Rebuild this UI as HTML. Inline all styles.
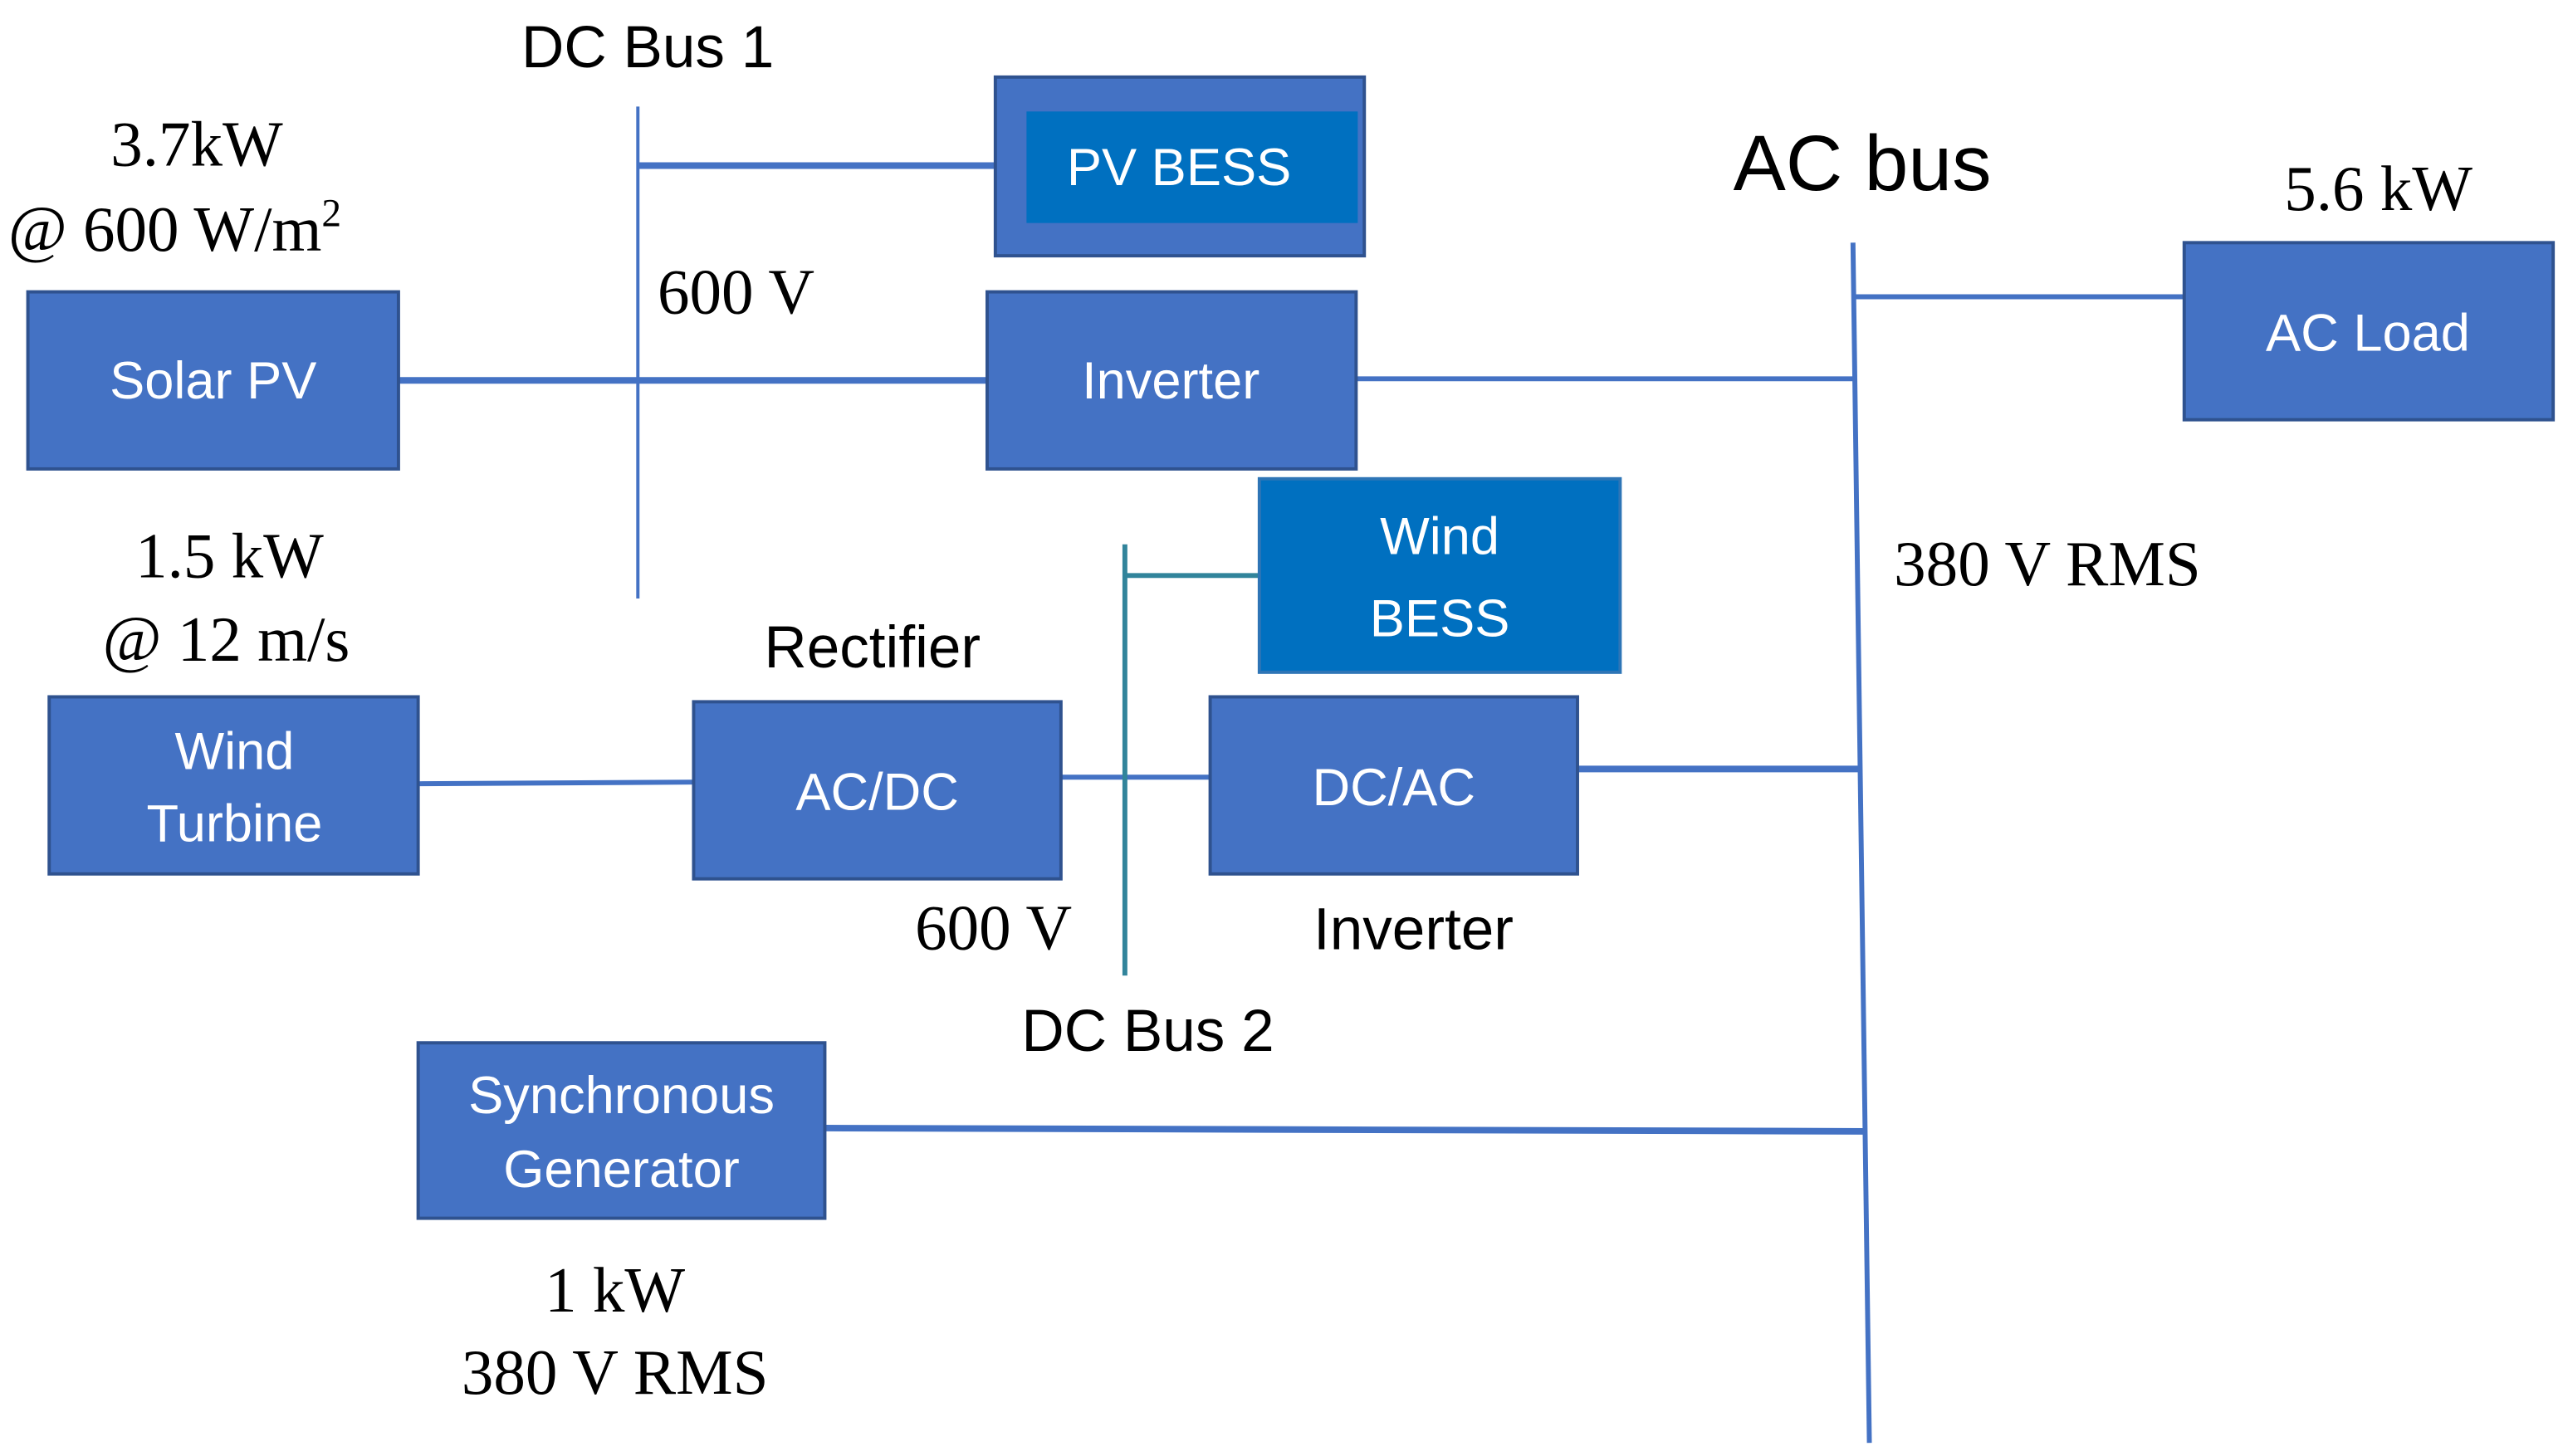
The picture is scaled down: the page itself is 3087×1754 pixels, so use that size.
<!DOCTYPE html>
<html><head><meta charset="utf-8"><style>
html,body{margin:0;padding:0;background:#fff;}
svg{display:block;width:3087px;height:1754px;}
.s{font-family:"Liberation Sans",sans-serif;}
.r{font-family:"Liberation Serif",serif;}
.bt{font-family:"Liberation Sans",sans-serif;fill:#fff;font-size:32px;text-anchor:middle;}
</style></head><body>
<svg viewBox="0 0 1563 888" preserveAspectRatio="none" xmlns="http://www.w3.org/2000/svg">
<g stroke="#4472c4" stroke-width="3" fill="none">
<line x1="389" y1="65" x2="389" y2="365" stroke-width="2"/>
<line x1="389" y1="101" x2="607" y2="101" stroke-width="4"/>
<line x1="243" y1="232" x2="602" y2="232" stroke-width="4"/>
<line x1="827" y1="231" x2="1131" y2="231" stroke-width="3"/>
<line x1="1130" y1="148" x2="1140" y2="880"/>
<line x1="1131" y1="181" x2="1332" y2="181"/>
<line x1="255" y1="478" x2="423" y2="477"/>
<line x1="647" y1="474" x2="738" y2="474"/>
<line x1="962" y1="469" x2="1134" y2="469" stroke-width="4"/>
<line x1="503" y1="688" x2="1137" y2="690" stroke-width="4"/>
</g>
<g stroke="#31849b" stroke-width="3">
<line x1="686" y1="332" x2="686" y2="595"/>
<line x1="686" y1="351" x2="768" y2="351"/>
</g>
<g fill="#4472c4" stroke="#2f528f" stroke-width="2">
<rect x="607" y="47" width="225" height="109"/>
<rect x="17" y="178" width="226" height="108"/>
<rect x="602" y="178" width="225" height="108"/>
<rect x="1332" y="148" width="225" height="108"/>
<rect x="30" y="425" width="225" height="108"/>
<rect x="423" y="428" width="224" height="108"/>
<rect x="738" y="425" width="224" height="108"/>
<rect x="255" y="636" width="248" height="107"/>
</g>
<rect x="626" y="68" width="202" height="68" fill="#0070c0"/>
<rect x="768" y="292" width="220" height="118" fill="#0070c0" stroke="#2e75b6" stroke-width="2"/>
<text class="bt" x="719" y="113">PV BESS</text>
<text class="bt" x="130" y="243">Solar PV</text>
<text class="bt" x="714" y="243">Inverter</text>
<text class="bt" x="1444" y="214">AC Load</text>
<text class="bt" x="878" y="338">Wind</text>
<text class="bt" x="878" y="388">BESS</text>
<text class="bt" x="143" y="469">Wind</text>
<text class="bt" x="143" y="513">Turbine</text>
<text class="bt" x="535" y="494">AC/DC</text>
<text class="bt" x="850" y="491">DC/AC</text>
<text class="bt" x="379" y="679">Synchronous</text>
<text class="bt" x="379" y="724">Generator</text>
<g fill="#000">
<text class="s" x="395" y="41" font-size="36" text-anchor="middle">DC Bus 1</text>
<text class="r" x="120" y="101" font-size="39" text-anchor="middle">3.7kW</text>
<text class="r" x="5" y="153" font-size="39">@ 600  W/m<tspan dy="-15" font-size="24">2</tspan></text>
<text class="r" x="401" y="191" font-size="39">600 V</text>
<text class="s" x="1057" y="116" font-size="48">AC bus</text>
<text class="r" x="1393" y="128" font-size="39">5.6 kW</text>
<text class="r" x="1155" y="357" font-size="39">380 V RMS</text>
<text class="r" x="140" y="352" font-size="39" text-anchor="middle">1.5 kW</text>
<text class="r" x="138" y="403" font-size="39" text-anchor="middle">@ 12 m/s</text>
<text class="s" x="532" y="407" font-size="36" text-anchor="middle">Rectifier</text>
<text class="r" x="558" y="579" font-size="39">600 V</text>
<text class="s" x="862" y="579" font-size="36" text-anchor="middle">Inverter</text>
<text class="s" x="700" y="641" font-size="36" text-anchor="middle">DC Bus 2</text>
<text class="r" x="375" y="800" font-size="39" text-anchor="middle">1 kW</text>
<text class="r" x="375" y="850" font-size="39" text-anchor="middle">380 V RMS</text>
</g>
</svg>
</body></html>
